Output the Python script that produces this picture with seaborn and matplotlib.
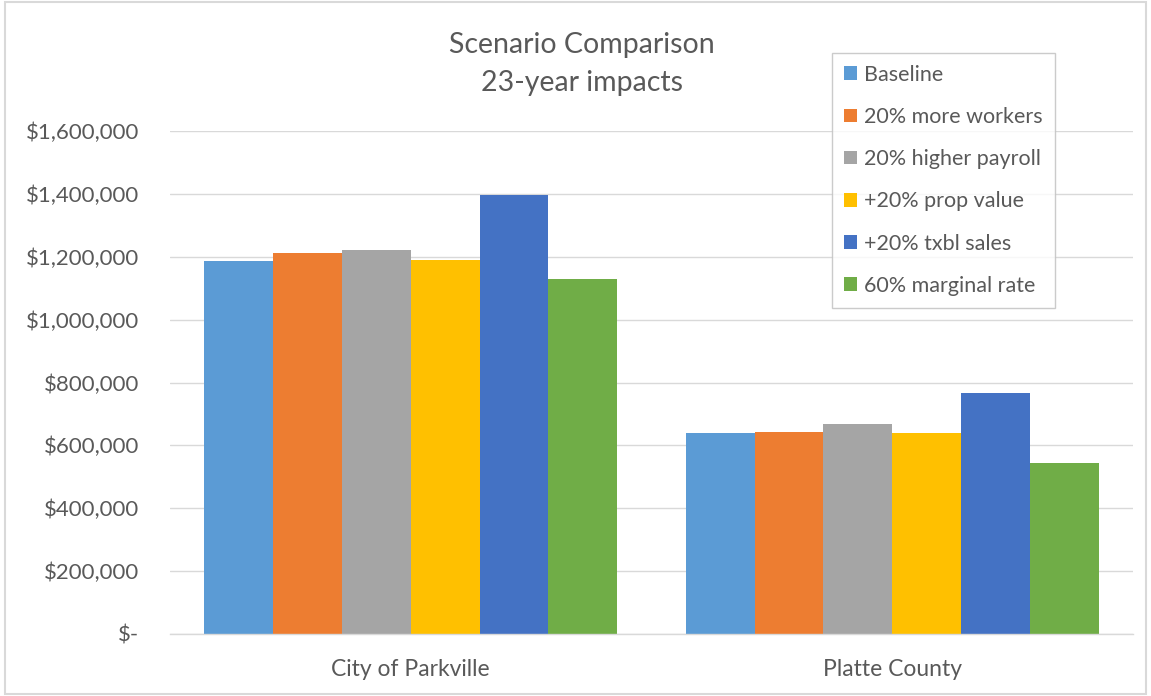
import matplotlib
matplotlib.use("Agg")
import matplotlib.pyplot as plt
import seaborn as sns
import pandas as pd
from matplotlib.ticker import FuncFormatter
from matplotlib.patches import Rectangle

categories = ["City of Parkville", "Platte County"]
scenarios = ["Baseline", "20% more workers", "20% higher payroll",
             "+20% prop value", "+20% txbl sales", "60% marginal rate"]
values = {
    "Baseline":            [1186000, 639000],
    "20% more workers":    [1211000, 644000],
    "20% higher payroll":  [1221000, 668000],
    "+20% prop value":     [1190000, 639000],
    "+20% txbl sales":     [1398000, 766000],
    "60% marginal rate":   [1128000, 545000],
}
colors = ["#5B9BD5", "#ED7D31", "#A5A5A5", "#FFC000", "#4472C4", "#70AD47"]
yticks = [0, 200000, 400000, 600000, 800000, 1000000, 1200000, 1400000, 1600000]

rows = []
for s in scenarios:
    for c, v in zip(categories, values[s]):
        rows.append({"Region": c, "Scenario": s, "Value": v})
df = pd.DataFrame(rows)

sns.set_theme(style="white")
plt.rcParams["font.family"] = ["Lato", "DejaVu Sans"]
text_col = "#595959"

fig = plt.figure(figsize=(11.51, 6.96), dpi=100)
ax = fig.add_axes([170/1151, 1-634/696, (1133-170)/1151, (634-131)/696])

sns.barplot(data=df, x="Region", y="Value", hue="Scenario", order=categories,
            hue_order=scenarios, palette=colors, width=0.857, gap=0,
            linewidth=0, saturation=1, ax=ax, legend=True, errorbar=None)

ax.set_xlim(-0.5, 1.5)
ax.set_ylim(0, 1600000)
ax.set_yticks(yticks)
ax.yaxis.set_major_formatter(FuncFormatter(lambda v, p: "$-" if v == 0 else f"${v:,.0f}"))
ax.grid(axis="y", color="#D9D9D9", linewidth=1)
ax.set_axisbelow(True)
for s in ["top", "right", "left"]:
    ax.spines[s].set_visible(False)
ax.spines["bottom"].set_color("#D9D9D9")
ax.spines["bottom"].set_linewidth(1)
ax.tick_params(axis="y", length=0, pad=22, labelsize=16, labelcolor=text_col)
ax.tick_params(axis="x", length=0, pad=18, labelsize=16.5, labelcolor=text_col)
ax.set_xlabel("")
ax.set_ylabel("")

fig.text(582/1151, 1-45/696, "Scenario Comparison", ha="center", va="center",
         fontsize=20.5, color=text_col)
fig.text(582/1151, 1-83/696, "23-year impacts", ha="center", va="center",
         fontsize=20.5, color=text_col)

handles, labels = ax.get_legend_handles_labels()
ax.get_legend().remove()
leg = fig.legend(handles, labels, loc="upper left",
                 bbox_to_anchor=(832/1151, 1-53/696),
                 frameon=True, fancybox=False, edgecolor="#BFBFBF",
                 fontsize=15.5, labelcolor=text_col, handlelength=0.6,
                 handleheight=0.6, handletextpad=0.35, labelspacing=1.03,
                 borderpad=0.55, borderaxespad=0)
leg.get_frame().set_linewidth(1)

fig.patches.append(Rectangle((0.004, 0.003), 0.992, 0.994, transform=fig.transFigure,
                             fill=False, edgecolor="#D9D9D9", linewidth=1.5))

fig.savefig("out.png", dpi=100)
